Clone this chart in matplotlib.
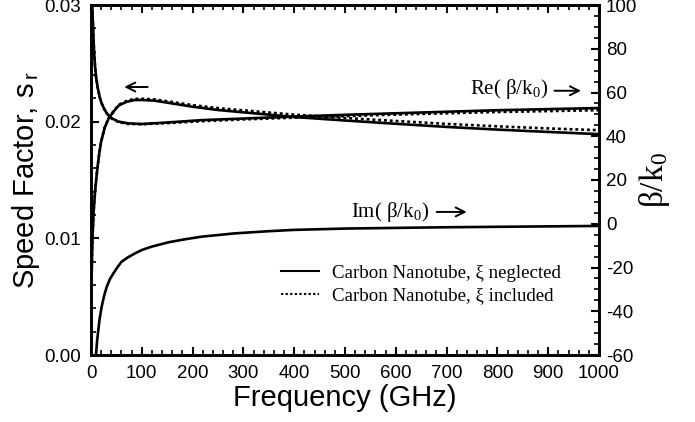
import matplotlib
matplotlib.use("Agg")
import matplotlib.pyplot as plt
from matplotlib.lines import Line2D
from matplotlib.ticker import MultipleLocator, FormatStrFormatter

plt.rcParams['axes.unicode_minus'] = False
plt.rcParams['mathtext.fontset'] = 'custom'
plt.rcParams['mathtext.rm'] = 'Liberation Serif'
plt.rcParams['mathtext.it'] = 'Liberation Serif:italic'
plt.rcParams['mathtext.sf'] = 'Liberation Sans'
plt.rcParams['font.family'] = ['Liberation Sans', 'DejaVu Sans']

# ---- data ----
freq_s = [1, 2, 3, 5, 8, 12, 16, 20, 27, 35, 45, 55, 70, 85, 100, 125, 150,
          200, 250, 300, 400, 500, 600, 700, 800, 900, 1000]
sr_neglected = [0.0060, 0.0085, 0.0101, 0.0122, 0.0140, 0.0158, 0.0172, 0.0183,
                0.0195, 0.0203, 0.0209, 0.0214, 0.0217, 0.02185, 0.02186, 0.0218,
                0.02163, 0.02128, 0.02100, 0.02080, 0.02040, 0.02010, 0.01982,
                0.01955, 0.01932, 0.01912, 0.01893]
sr_included = [0.0060, 0.0085, 0.0101, 0.0122, 0.0140, 0.0158, 0.0172, 0.0183,
               0.0195, 0.02033, 0.02094, 0.02146, 0.02178, 0.02195, 0.02196, 0.02191,
               0.02175, 0.02142, 0.02116, 0.02097, 0.02060, 0.02032, 0.02006,
               0.01981, 0.01960, 0.01942, 0.01927]

freq_re = [2, 2.6, 3.5, 4.5, 6, 7.9, 10, 13, 17, 21, 26, 31, 41, 54, 73, 100,
           150, 220, 300, 400, 500, 600, 700, 800, 900, 1000]
re_neglected = [118, 99, 93, 87, 79, 72, 67, 62.5, 58, 55, 52.5, 50.5, 48.2, 46.7,
                45.9, 45.6, 46.3, 47.4, 48.1, 49.0, 49.8, 50.5, 51.2, 51.9, 52.4, 52.9]
re_included = [118, 99, 93, 87, 79, 72, 67, 62.5, 58, 55, 52.5, 50.4, 48.0, 46.5,
               45.6, 45.5, 46.0, 46.9, 47.7, 48.5, 49.2, 49.9, 50.5, 51.1, 51.5, 51.9]

freq_im = [9.8, 12, 14.4, 17, 21, 26, 31, 37, 44, 52, 60, 73, 87, 100, 119, 152,
           185, 218, 283, 350, 400, 500, 600, 700, 800, 900, 1000]
im_neglected = [-60, -53.5, -48.6, -43.5, -37.9, -32.8, -28.8, -25.4, -22.7, -19.9,
                -17.4, -15.3, -13.5, -12.0, -10.5, -8.5, -7.1, -5.9, -4.4, -3.4,
                -2.8, -2.2, -1.9, -1.6, -1.4, -1.2, -1.0]

legend_labels = ['Carbon Nanotube, ξ neglected', 'Carbon Nanotube, ξ included']

# ---- figure ----
fig = plt.figure(figsize=(6.95, 4.22), dpi=100)
ax = fig.add_axes([91/695, 67/422, 508/695, 350/422])
ax2 = ax.twinx()

lw = 1.9
dot = (0, (1.1, 1.1))
ax.plot(freq_s, sr_neglected, color='black', lw=lw)
ax.plot(freq_s, sr_included, color='black', lw=lw, linestyle=dot)
ax2.plot(freq_re, re_neglected, color='black', lw=lw)
ax2.plot(freq_re, re_included, color='black', lw=lw, linestyle=dot)
ax2.plot(freq_im, im_neglected, color='black', lw=lw)

ax.set_xlim(0, 1000)
ax.set_ylim(0.0, 0.03)
ax2.set_ylim(-60, 100)

ax.xaxis.set_major_locator(MultipleLocator(100))
ax.xaxis.set_minor_locator(MultipleLocator(20))
ax.yaxis.set_major_locator(MultipleLocator(0.01))
ax.yaxis.set_minor_locator(MultipleLocator(0.002))
ax.yaxis.set_major_formatter(FormatStrFormatter('%.2f'))
ax2.yaxis.set_major_locator(MultipleLocator(20))
ax2.yaxis.set_minor_locator(MultipleLocator(5))

ax.tick_params(axis='x', which='both', direction='in', top=True, bottom=True,
               labelsize=13.5, pad=7)
ax.tick_params(axis='y', which='both', direction='in', left=True, right=False,
               labelsize=13.5, pad=7)
ax2.tick_params(axis='y', which='both', direction='in', right=True,
                labelsize=13.5, pad=5)
for a in (ax, ax2):
    a.tick_params(which='major', length=6, width=1.5)
    a.tick_params(which='minor', length=3.5, width=1.2)
    for s in a.spines.values():
        s.set_linewidth(1.9)

ax.set_xlabel('Frequency (GHz)', fontsize=21, labelpad=2)
ax.set_ylabel(r'Speed Factor, s$_{\;\mathsf{r}}$', fontsize=21, labelpad=2)
ax2.set_ylabel(r'β/$\mathrm{k}_0$', fontsize=24, family='Liberation Serif',
               labelpad=0)

serif = 'Liberation Serif'
ap = dict(arrowstyle='->', lw=1.4, color='black', mutation_scale=16)
ax.annotate('', xy=(60, 0.02297), xytext=(117, 0.02297), arrowprops=ap)
ax2.text(900, 61.6, r'Re( β/$\mathrm{k}_0$)', ha='right', va='center',
         fontsize=15, family=serif)
ax2.annotate('', xy=(970, 60.8), xytext=(907, 60.8), arrowprops=ap)
ax2.text(512, 5.5, r'Im( β/$\mathrm{k}_0$)', ha='left', va='center',
         fontsize=15, family=serif)
ax2.annotate('', xy=(745, 5.4), xytext=(675, 5.4), arrowprops=ap)

handles = [Line2D([], [], color='black', lw=1.5),
           Line2D([], [], color='black', lw=1.5, linestyle=dot)]
leg = ax.legend(handles, legend_labels, loc='upper left',
                bbox_to_anchor=(0.36, 0.28), frameon=False,
                prop={'family': serif, 'size': 13.6}, handlelength=2.0,
                handletextpad=0.7, labelspacing=0.28, borderaxespad=0)

fig.savefig('out.png', dpi=100)
